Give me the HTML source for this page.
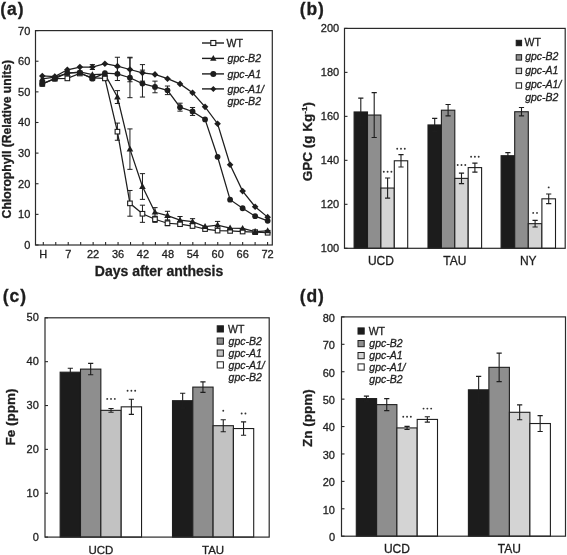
<!DOCTYPE html>
<html><head><meta charset="utf-8"><title>Figure</title>
<style>
html,body{margin:0;padding:0;background:#fff;}
body{width:567px;height:555px;overflow:hidden;}
svg{display:block;will-change:transform;}
svg text{font-family:"Liberation Sans", sans-serif;fill:#1e1e1e;stroke:#1e1e1e;stroke-width:0.3px;}
</style></head>
<body>
<svg width="567" height="555" viewBox="0 0 567 555">
<rect width="567" height="555" fill="#fff"/>
<text x="0.3" y="14.6" font-size="17.5" text-anchor="start" font-weight="bold" font-style="normal" letter-spacing="0.9">(a)</text>
<rect x="35.5" y="30.6" width="236.8" height="214.4" fill="none" stroke="#2a2a2a" stroke-width="1.2"/>
<line x1="35.5" y1="245" x2="38.5" y2="245" stroke="#2a2a2a" stroke-width="1.1"/>
<text x="30.3" y="248.96" font-size="11" text-anchor="end" font-weight="normal" font-style="normal" >0</text>
<line x1="35.5" y1="214.37" x2="38.5" y2="214.37" stroke="#2a2a2a" stroke-width="1.1"/>
<text x="30.3" y="218.33" font-size="11" text-anchor="end" font-weight="normal" font-style="normal" >10</text>
<line x1="35.5" y1="183.74" x2="38.5" y2="183.74" stroke="#2a2a2a" stroke-width="1.1"/>
<text x="30.3" y="187.7" font-size="11" text-anchor="end" font-weight="normal" font-style="normal" >20</text>
<line x1="35.5" y1="153.11" x2="38.5" y2="153.11" stroke="#2a2a2a" stroke-width="1.1"/>
<text x="30.3" y="157.07" font-size="11" text-anchor="end" font-weight="normal" font-style="normal" >30</text>
<line x1="35.5" y1="122.49" x2="38.5" y2="122.49" stroke="#2a2a2a" stroke-width="1.1"/>
<text x="30.3" y="126.45" font-size="11" text-anchor="end" font-weight="normal" font-style="normal" >40</text>
<line x1="35.5" y1="91.86" x2="38.5" y2="91.86" stroke="#2a2a2a" stroke-width="1.1"/>
<text x="30.3" y="95.82" font-size="11" text-anchor="end" font-weight="normal" font-style="normal" >50</text>
<line x1="35.5" y1="61.23" x2="38.5" y2="61.23" stroke="#2a2a2a" stroke-width="1.1"/>
<text x="30.3" y="65.19" font-size="11" text-anchor="end" font-weight="normal" font-style="normal" >60</text>
<line x1="35.5" y1="30.6" x2="38.5" y2="30.6" stroke="#2a2a2a" stroke-width="1.1"/>
<text x="30.3" y="34.56" font-size="11" text-anchor="end" font-weight="normal" font-style="normal" >70</text>
<line x1="43.3" y1="245" x2="43.3" y2="242" stroke="#2a2a2a" stroke-width="1.1"/>
<line x1="55.76" y1="245" x2="55.76" y2="242" stroke="#2a2a2a" stroke-width="1.1"/>
<line x1="68.22" y1="245" x2="68.22" y2="242" stroke="#2a2a2a" stroke-width="1.1"/>
<line x1="80.68" y1="245" x2="80.68" y2="242" stroke="#2a2a2a" stroke-width="1.1"/>
<line x1="93.14" y1="245" x2="93.14" y2="242" stroke="#2a2a2a" stroke-width="1.1"/>
<line x1="105.6" y1="245" x2="105.6" y2="242" stroke="#2a2a2a" stroke-width="1.1"/>
<line x1="118.06" y1="245" x2="118.06" y2="242" stroke="#2a2a2a" stroke-width="1.1"/>
<line x1="130.52" y1="245" x2="130.52" y2="242" stroke="#2a2a2a" stroke-width="1.1"/>
<line x1="142.98" y1="245" x2="142.98" y2="242" stroke="#2a2a2a" stroke-width="1.1"/>
<line x1="155.44" y1="245" x2="155.44" y2="242" stroke="#2a2a2a" stroke-width="1.1"/>
<line x1="167.9" y1="245" x2="167.9" y2="242" stroke="#2a2a2a" stroke-width="1.1"/>
<line x1="180.36" y1="245" x2="180.36" y2="242" stroke="#2a2a2a" stroke-width="1.1"/>
<line x1="192.82" y1="245" x2="192.82" y2="242" stroke="#2a2a2a" stroke-width="1.1"/>
<line x1="205.28" y1="245" x2="205.28" y2="242" stroke="#2a2a2a" stroke-width="1.1"/>
<line x1="217.74" y1="245" x2="217.74" y2="242" stroke="#2a2a2a" stroke-width="1.1"/>
<line x1="230.2" y1="245" x2="230.2" y2="242" stroke="#2a2a2a" stroke-width="1.1"/>
<line x1="242.66" y1="245" x2="242.66" y2="242" stroke="#2a2a2a" stroke-width="1.1"/>
<line x1="255.12" y1="245" x2="255.12" y2="242" stroke="#2a2a2a" stroke-width="1.1"/>
<line x1="267.58" y1="245" x2="267.58" y2="242" stroke="#2a2a2a" stroke-width="1.1"/>
<text x="43.3" y="258.3" font-size="11" text-anchor="middle" font-weight="normal" font-style="normal" >H</text>
<text x="68.22" y="258.3" font-size="11" text-anchor="middle" font-weight="normal" font-style="normal" >7</text>
<text x="93.14" y="258.3" font-size="11" text-anchor="middle" font-weight="normal" font-style="normal" >22</text>
<text x="118.06" y="258.3" font-size="11" text-anchor="middle" font-weight="normal" font-style="normal" >36</text>
<text x="142.98" y="258.3" font-size="11" text-anchor="middle" font-weight="normal" font-style="normal" >42</text>
<text x="167.9" y="258.3" font-size="11" text-anchor="middle" font-weight="normal" font-style="normal" >48</text>
<text x="192.82" y="258.3" font-size="11" text-anchor="middle" font-weight="normal" font-style="normal" >54</text>
<text x="217.74" y="258.3" font-size="11" text-anchor="middle" font-weight="normal" font-style="normal" >60</text>
<text x="242.66" y="258.3" font-size="11" text-anchor="middle" font-weight="normal" font-style="normal" >66</text>
<text x="267.58" y="258.3" font-size="11" text-anchor="middle" font-weight="normal" font-style="normal" >72</text>
<text x="159" y="276.2" font-size="14" text-anchor="middle" font-weight="bold" font-style="normal" >Days after anthesis</text>
<text transform="translate(11.4,139.2) rotate(-90)" font-size="12.2" font-weight="bold" text-anchor="middle">Chlorophyll (Relative units)</text>
<path d="M117.42 57.25V75.01M114.82 57.25H120.02M114.82 75.01H120.02" stroke="#1e1e1e" stroke-width="1.0" fill="none"/>
<path d="M129.94 57.25V81.75M127.34 57.25H132.54M127.34 81.75H132.54" stroke="#1e1e1e" stroke-width="1.0" fill="none"/>
<path d="M142.46 64.6V81.14M139.86 64.6H145.06M139.86 81.14H145.06" stroke="#1e1e1e" stroke-width="1.0" fill="none"/>
<path d="M92.38 64.6V69.5M89.78 64.6H94.98M89.78 69.5H94.98" stroke="#1e1e1e" stroke-width="1.0" fill="none"/>
<path d="M117.42 67.05V80.52M114.82 67.05H120.02M114.82 80.52H120.02" stroke="#1e1e1e" stroke-width="1.0" fill="none"/>
<path d="M129.94 57.86V97.68M127.34 57.86H132.54M127.34 97.68H132.54" stroke="#1e1e1e" stroke-width="1.0" fill="none"/>
<path d="M142.46 70.11V97.06M139.86 70.11H145.06M139.86 97.06H145.06" stroke="#1e1e1e" stroke-width="1.0" fill="none"/>
<path d="M154.98 81.14V92.78M152.38 81.14H157.58M152.38 92.78H157.58" stroke="#1e1e1e" stroke-width="1.0" fill="none"/>
<path d="M167.5 86.04V94.61M164.9 86.04H170.1M164.9 94.61H170.1" stroke="#1e1e1e" stroke-width="1.0" fill="none"/>
<path d="M180.02 103.19V111.15M177.42 103.19H182.62M177.42 111.15H182.62" stroke="#1e1e1e" stroke-width="1.0" fill="none"/>
<path d="M192.54 107.48V115.44M189.94 107.48H195.14M189.94 115.44H195.14" stroke="#1e1e1e" stroke-width="1.0" fill="none"/>
<path d="M117.42 90.63V103.5M114.82 90.63H120.02M114.82 103.5H120.02" stroke="#1e1e1e" stroke-width="1.0" fill="none"/>
<path d="M129.94 128.92V169.35M127.34 128.92H132.54M127.34 169.35H132.54" stroke="#1e1e1e" stroke-width="1.0" fill="none"/>
<path d="M142.46 173.64V199.36M139.86 173.64H145.06M139.86 199.36H145.06" stroke="#1e1e1e" stroke-width="1.0" fill="none"/>
<path d="M154.98 207.63V216.82M152.38 207.63H157.58M152.38 216.82H157.58" stroke="#1e1e1e" stroke-width="1.0" fill="none"/>
<path d="M167.5 211.31V219.88M164.9 211.31H170.1M164.9 219.88H170.1" stroke="#1e1e1e" stroke-width="1.0" fill="none"/>
<path d="M180.02 216.52V223.87M177.42 216.52H182.62M177.42 223.87H182.62" stroke="#1e1e1e" stroke-width="1.0" fill="none"/>
<path d="M192.54 218.66V224.79M189.94 218.66H195.14M189.94 224.79H195.14" stroke="#1e1e1e" stroke-width="1.0" fill="none"/>
<path d="M217.58 221.42V228.77M214.98 221.42H220.18M214.98 228.77H220.18" stroke="#1e1e1e" stroke-width="1.0" fill="none"/>
<path d="M117.42 123.1V140.25M114.82 123.1H120.02M114.82 140.25H120.02" stroke="#1e1e1e" stroke-width="1.0" fill="none"/>
<path d="M129.94 190.48V216.21M127.34 190.48H132.54M127.34 216.21H132.54" stroke="#1e1e1e" stroke-width="1.0" fill="none"/>
<path d="M142.46 205.18V222.33M139.86 205.18H145.06M139.86 222.33H145.06" stroke="#1e1e1e" stroke-width="1.0" fill="none"/>
<path d="M154.98 216.21V222.33M152.38 216.21H157.58M152.38 222.33H157.58" stroke="#1e1e1e" stroke-width="1.0" fill="none"/>
<path d="M167.5 220.8V225.7M164.9 220.8H170.1M164.9 225.7H170.1" stroke="#1e1e1e" stroke-width="1.0" fill="none"/>
<polyline points="42.3,75.93 54.82,76.54 67.34,69.8 79.86,67.05 92.38,67.05 104.9,63.68 117.42,66.13 129.94,69.5 142.46,72.87 154.98,74.4 167.5,78.69 180.02,83.89 192.54,92.78 205.06,106.87 217.58,123.71 230.1,164.75 242.62,191.09 255.14,206.71 267.66,217.13" fill="none" stroke="#1e1e1e" stroke-width="1.25"/>
<polyline points="42.3,83.89 54.82,78.69 67.34,72.87 79.86,72.56 92.38,78.69 104.9,73.17 117.42,73.79 129.94,77.77 142.46,83.59 154.98,86.96 167.5,90.33 180.02,107.17 192.54,111.46 205.06,119.42 217.58,156.79 230.1,199.67 242.62,208.25 255.14,216.21 267.66,220.8" fill="none" stroke="#1e1e1e" stroke-width="1.25"/>
<polyline points="42.3,78.99 54.82,77.16 67.34,73.48 79.86,71.95 92.38,74.71 104.9,74.09 117.42,97.06 129.94,149.13 142.46,186.5 154.98,212.23 167.5,215.6 180.02,220.19 192.54,221.72 205.06,226.62 217.58,225.09 230.1,228.15 242.62,228.46 255.14,231.52 267.66,230.91" fill="none" stroke="#1e1e1e" stroke-width="1.25"/>
<polyline points="42.3,83.89 54.82,78.69 67.34,78.38 79.86,73.48 92.38,77.77 104.9,78.38 117.42,131.67 129.94,203.35 142.46,213.76 154.98,219.27 167.5,223.25 180.02,224.17 192.54,226.01 205.06,229.07 217.58,230.6 230.1,230.91 242.62,231.52 255.14,232.14 267.66,232.75" fill="none" stroke="#1e1e1e" stroke-width="1.25"/>
<rect x="40" y="81.59" width="4.6" height="4.6" fill="#fff" stroke="#1e1e1e" stroke-width="1.1"/>
<rect x="52.52" y="76.39" width="4.6" height="4.6" fill="#fff" stroke="#1e1e1e" stroke-width="1.1"/>
<rect x="65.04" y="76.08" width="4.6" height="4.6" fill="#fff" stroke="#1e1e1e" stroke-width="1.1"/>
<rect x="77.56" y="71.18" width="4.6" height="4.6" fill="#fff" stroke="#1e1e1e" stroke-width="1.1"/>
<rect x="90.08" y="75.47" width="4.6" height="4.6" fill="#fff" stroke="#1e1e1e" stroke-width="1.1"/>
<rect x="102.6" y="76.08" width="4.6" height="4.6" fill="#fff" stroke="#1e1e1e" stroke-width="1.1"/>
<rect x="115.12" y="129.37" width="4.6" height="4.6" fill="#fff" stroke="#1e1e1e" stroke-width="1.1"/>
<rect x="127.64" y="201.05" width="4.6" height="4.6" fill="#fff" stroke="#1e1e1e" stroke-width="1.1"/>
<rect x="140.16" y="211.46" width="4.6" height="4.6" fill="#fff" stroke="#1e1e1e" stroke-width="1.1"/>
<rect x="152.68" y="216.97" width="4.6" height="4.6" fill="#fff" stroke="#1e1e1e" stroke-width="1.1"/>
<rect x="165.2" y="220.95" width="4.6" height="4.6" fill="#fff" stroke="#1e1e1e" stroke-width="1.1"/>
<rect x="177.72" y="221.87" width="4.6" height="4.6" fill="#fff" stroke="#1e1e1e" stroke-width="1.1"/>
<rect x="190.24" y="223.71" width="4.6" height="4.6" fill="#fff" stroke="#1e1e1e" stroke-width="1.1"/>
<rect x="202.76" y="226.77" width="4.6" height="4.6" fill="#fff" stroke="#1e1e1e" stroke-width="1.1"/>
<rect x="215.28" y="228.3" width="4.6" height="4.6" fill="#fff" stroke="#1e1e1e" stroke-width="1.1"/>
<rect x="227.8" y="228.61" width="4.6" height="4.6" fill="#fff" stroke="#1e1e1e" stroke-width="1.1"/>
<rect x="240.32" y="229.22" width="4.6" height="4.6" fill="#fff" stroke="#1e1e1e" stroke-width="1.1"/>
<rect x="252.84" y="229.84" width="4.6" height="4.6" fill="#fff" stroke="#1e1e1e" stroke-width="1.1"/>
<rect x="265.36" y="230.45" width="4.6" height="4.6" fill="#fff" stroke="#1e1e1e" stroke-width="1.1"/>
<path d="M42.3 75.43L45.6 81.37L39 81.37Z" fill="#1e1e1e"/>
<path d="M54.82 73.59L58.12 79.53L51.52 79.53Z" fill="#1e1e1e"/>
<path d="M67.34 69.92L70.64 75.86L64.04 75.86Z" fill="#1e1e1e"/>
<path d="M79.86 68.38L83.16 74.32L76.56 74.32Z" fill="#1e1e1e"/>
<path d="M92.38 71.14L95.68 77.08L89.08 77.08Z" fill="#1e1e1e"/>
<path d="M104.9 70.53L108.2 76.47L101.6 76.47Z" fill="#1e1e1e"/>
<path d="M117.42 93.5L120.72 99.44L114.12 99.44Z" fill="#1e1e1e"/>
<path d="M129.94 145.57L133.24 151.51L126.64 151.51Z" fill="#1e1e1e"/>
<path d="M142.46 182.94L145.76 188.88L139.16 188.88Z" fill="#1e1e1e"/>
<path d="M154.98 208.66L158.28 214.6L151.68 214.6Z" fill="#1e1e1e"/>
<path d="M167.5 212.03L170.8 217.97L164.2 217.97Z" fill="#1e1e1e"/>
<path d="M180.02 216.63L183.32 222.57L176.72 222.57Z" fill="#1e1e1e"/>
<path d="M192.54 218.16L195.84 224.1L189.24 224.1Z" fill="#1e1e1e"/>
<path d="M205.06 223.06L208.36 229L201.76 229Z" fill="#1e1e1e"/>
<path d="M217.58 221.53L220.88 227.47L214.28 227.47Z" fill="#1e1e1e"/>
<path d="M230.1 224.59L233.4 230.53L226.8 230.53Z" fill="#1e1e1e"/>
<path d="M242.62 224.9L245.92 230.84L239.32 230.84Z" fill="#1e1e1e"/>
<path d="M255.14 227.96L258.44 233.9L251.84 233.9Z" fill="#1e1e1e"/>
<path d="M267.66 227.35L270.96 233.29L264.36 233.29Z" fill="#1e1e1e"/>
<circle cx="42.3" cy="83.89" r="2.9" fill="#1e1e1e"/>
<circle cx="54.82" cy="78.69" r="2.9" fill="#1e1e1e"/>
<circle cx="67.34" cy="72.87" r="2.9" fill="#1e1e1e"/>
<circle cx="79.86" cy="72.56" r="2.9" fill="#1e1e1e"/>
<circle cx="92.38" cy="78.69" r="2.9" fill="#1e1e1e"/>
<circle cx="104.9" cy="73.17" r="2.9" fill="#1e1e1e"/>
<circle cx="117.42" cy="73.79" r="2.9" fill="#1e1e1e"/>
<circle cx="129.94" cy="77.77" r="2.9" fill="#1e1e1e"/>
<circle cx="142.46" cy="83.59" r="2.9" fill="#1e1e1e"/>
<circle cx="154.98" cy="86.96" r="2.9" fill="#1e1e1e"/>
<circle cx="167.5" cy="90.33" r="2.9" fill="#1e1e1e"/>
<circle cx="180.02" cy="107.17" r="2.9" fill="#1e1e1e"/>
<circle cx="192.54" cy="111.46" r="2.9" fill="#1e1e1e"/>
<circle cx="205.06" cy="119.42" r="2.9" fill="#1e1e1e"/>
<circle cx="217.58" cy="156.79" r="2.9" fill="#1e1e1e"/>
<circle cx="230.1" cy="199.67" r="2.9" fill="#1e1e1e"/>
<circle cx="242.62" cy="208.25" r="2.9" fill="#1e1e1e"/>
<circle cx="255.14" cy="216.21" r="2.9" fill="#1e1e1e"/>
<circle cx="267.66" cy="220.8" r="2.9" fill="#1e1e1e"/>
<path d="M42.3 72.63L45.6 75.93L42.3 79.23L39 75.93Z" fill="#1e1e1e"/>
<path d="M54.82 73.24L58.12 76.54L54.82 79.84L51.52 76.54Z" fill="#1e1e1e"/>
<path d="M67.34 66.5L70.64 69.8L67.34 73.1L64.04 69.8Z" fill="#1e1e1e"/>
<path d="M79.86 63.75L83.16 67.05L79.86 70.35L76.56 67.05Z" fill="#1e1e1e"/>
<path d="M92.38 63.75L95.68 67.05L92.38 70.35L89.08 67.05Z" fill="#1e1e1e"/>
<path d="M104.9 60.38L108.2 63.68L104.9 66.98L101.6 63.68Z" fill="#1e1e1e"/>
<path d="M117.42 62.83L120.72 66.13L117.42 69.43L114.12 66.13Z" fill="#1e1e1e"/>
<path d="M129.94 66.2L133.24 69.5L129.94 72.8L126.64 69.5Z" fill="#1e1e1e"/>
<path d="M142.46 69.57L145.76 72.87L142.46 76.17L139.16 72.87Z" fill="#1e1e1e"/>
<path d="M154.98 71.1L158.28 74.4L154.98 77.7L151.68 74.4Z" fill="#1e1e1e"/>
<path d="M167.5 75.39L170.8 78.69L167.5 81.99L164.2 78.69Z" fill="#1e1e1e"/>
<path d="M180.02 80.59L183.32 83.89L180.02 87.19L176.72 83.89Z" fill="#1e1e1e"/>
<path d="M192.54 89.48L195.84 92.78L192.54 96.08L189.24 92.78Z" fill="#1e1e1e"/>
<path d="M205.06 103.57L208.36 106.87L205.06 110.17L201.76 106.87Z" fill="#1e1e1e"/>
<path d="M217.58 120.41L220.88 123.71L217.58 127.01L214.28 123.71Z" fill="#1e1e1e"/>
<path d="M230.1 161.45L233.4 164.75L230.1 168.05L226.8 164.75Z" fill="#1e1e1e"/>
<path d="M242.62 187.79L245.92 191.09L242.62 194.39L239.32 191.09Z" fill="#1e1e1e"/>
<path d="M255.14 203.41L258.44 206.71L255.14 210.01L251.84 206.71Z" fill="#1e1e1e"/>
<path d="M267.66 213.83L270.96 217.13L267.66 220.43L264.36 217.13Z" fill="#1e1e1e"/>
<line x1="202" y1="43" x2="224" y2="43" stroke="#1e1e1e" stroke-width="1.4"/>
<line x1="202" y1="58.4" x2="224" y2="58.4" stroke="#1e1e1e" stroke-width="1.4"/>
<line x1="202" y1="73.9" x2="224" y2="73.9" stroke="#1e1e1e" stroke-width="1.4"/>
<line x1="202" y1="88.9" x2="224" y2="88.9" stroke="#1e1e1e" stroke-width="1.4"/>
<rect x="210.8" y="40.5" width="5" height="5" fill="#fff" stroke="#1e1e1e" stroke-width="1.1"/>
<path d="M213.3 54.94L216.5 60.7L210.1 60.7Z" fill="#1e1e1e"/>
<circle cx="213.3" cy="73.9" r="3" fill="#1e1e1e"/>
<path d="M213.3 85.9L216.3 88.9L213.3 91.9L210.3 88.9Z" fill="#1e1e1e"/>
<text x="226.5" y="46.8" font-size="10.6" text-anchor="start" font-weight="normal" font-style="normal" >WT</text>
<text x="227.5" y="62.2" font-size="10.6" text-anchor="start" font-weight="normal" font-style="italic" >gpc-B2</text>
<text x="227.5" y="77.7" font-size="10.6" text-anchor="start" font-weight="normal" font-style="italic" >gpc-A1</text>
<text x="227.5" y="92.7" font-size="10.6" text-anchor="start" font-weight="normal" font-style="italic" >gpc-A1/</text>
<text x="227.5" y="105.3" font-size="10.6" text-anchor="start" font-weight="normal" font-style="italic" >gpc-B2</text>
<text x="299.8" y="14.6" font-size="17.5" text-anchor="start" font-weight="bold" font-style="normal" letter-spacing="0.9">(b)</text>
<rect x="354.1" y="111.96" width="13.4" height="136.34" fill="#1c1c1c" stroke="#1e1e1e" stroke-width="1.1"/>
<rect x="367.5" y="115.04" width="13.4" height="133.26" fill="#8e8e8e" stroke="#1e1e1e" stroke-width="1.1"/>
<rect x="380.9" y="188.05" width="13.4" height="60.25" fill="#d4d4d4" stroke="#1e1e1e" stroke-width="1.1"/>
<rect x="394.3" y="160.78" width="13.4" height="87.52" fill="#ffffff" stroke="#1e1e1e" stroke-width="1.1"/>
<path d="M360.8 98.11V125.82M358.2 98.11H363.4M358.2 125.82H363.4" stroke="#1e1e1e" stroke-width="1.1" fill="none"/>
<path d="M374.2 92.61V137.47M371.6 92.61H376.8M371.6 137.47H376.8" stroke="#1e1e1e" stroke-width="1.1" fill="none"/>
<path d="M387.6 177.93V198.16M385 177.93H390.2M385 198.16H390.2" stroke="#1e1e1e" stroke-width="1.1" fill="none"/>
<circle cx="383.8" cy="171.7" r="0.95" fill="#333"/>
<circle cx="387.6" cy="171.7" r="0.95" fill="#333"/>
<circle cx="391.4" cy="171.7" r="0.95" fill="#333"/>
<path d="M401 154.62V166.94M398.4 154.62H403.6M398.4 166.94H403.6" stroke="#1e1e1e" stroke-width="1.1" fill="none"/>
<circle cx="397.2" cy="148.8" r="0.95" fill="#333"/>
<circle cx="401" cy="148.8" r="0.95" fill="#333"/>
<circle cx="404.8" cy="148.8" r="0.95" fill="#333"/>
<text x="380.9" y="264.5" font-size="12" text-anchor="middle" font-weight="normal" font-style="normal" >UCD</text>
<rect x="428" y="124.94" width="13.4" height="123.36" fill="#1c1c1c" stroke="#1e1e1e" stroke-width="1.1"/>
<rect x="441.4" y="110.2" width="13.4" height="138.1" fill="#8e8e8e" stroke="#1e1e1e" stroke-width="1.1"/>
<rect x="454.8" y="178.37" width="13.4" height="69.93" fill="#d4d4d4" stroke="#1e1e1e" stroke-width="1.1"/>
<rect x="468.2" y="167.6" width="13.4" height="80.7" fill="#ffffff" stroke="#1e1e1e" stroke-width="1.1"/>
<path d="M434.7 118.34V131.53M432.1 118.34H437.3M432.1 131.53H437.3" stroke="#1e1e1e" stroke-width="1.1" fill="none"/>
<path d="M448.1 104.49V115.92M445.5 104.49H450.7M445.5 115.92H450.7" stroke="#1e1e1e" stroke-width="1.1" fill="none"/>
<path d="M461.5 173.09V183.65M458.9 173.09H464.1M458.9 183.65H464.1" stroke="#1e1e1e" stroke-width="1.1" fill="none"/>
<circle cx="457.7" cy="165" r="0.95" fill="#333"/>
<circle cx="461.5" cy="165" r="0.95" fill="#333"/>
<circle cx="465.3" cy="165" r="0.95" fill="#333"/>
<path d="M474.9 163.09V172.1M472.3 163.09H477.5M472.3 172.1H477.5" stroke="#1e1e1e" stroke-width="1.1" fill="none"/>
<circle cx="471.1" cy="156.8" r="0.95" fill="#333"/>
<circle cx="474.9" cy="156.8" r="0.95" fill="#333"/>
<circle cx="478.7" cy="156.8" r="0.95" fill="#333"/>
<text x="454.8" y="264.5" font-size="12" text-anchor="middle" font-weight="normal" font-style="normal" >TAU</text>
<rect x="501.1" y="155.72" width="13.6" height="92.58" fill="#1c1c1c" stroke="#1e1e1e" stroke-width="1.1"/>
<rect x="514.7" y="111.74" width="13.6" height="136.56" fill="#8e8e8e" stroke="#1e1e1e" stroke-width="1.1"/>
<rect x="528.3" y="223.67" width="13.6" height="24.63" fill="#d4d4d4" stroke="#1e1e1e" stroke-width="1.1"/>
<rect x="541.9" y="198.82" width="13.6" height="49.48" fill="#ffffff" stroke="#1e1e1e" stroke-width="1.1"/>
<path d="M507.9 152.64V158.8M505.3 152.64H510.5M505.3 158.8H510.5" stroke="#1e1e1e" stroke-width="1.1" fill="none"/>
<path d="M521.5 107.56V115.92M518.9 107.56H524.1M518.9 115.92H524.1" stroke="#1e1e1e" stroke-width="1.1" fill="none"/>
<path d="M535.1 220.37V226.97M532.5 220.37H537.7M532.5 226.97H537.7" stroke="#1e1e1e" stroke-width="1.1" fill="none"/>
<circle cx="533.2" cy="212.9" r="0.95" fill="#333"/>
<circle cx="537" cy="212.9" r="0.95" fill="#333"/>
<path d="M548.7 193.98V203.66M546.1 193.98H551.3M546.1 203.66H551.3" stroke="#1e1e1e" stroke-width="1.1" fill="none"/>
<circle cx="548.7" cy="187.4" r="0.95" fill="#333"/>
<text x="528.3" y="264.5" font-size="12" text-anchor="middle" font-weight="normal" font-style="normal" >NY</text>
<rect x="344.5" y="28.4" width="220.7" height="219.9" fill="none" stroke="#2a2a2a" stroke-width="1.2"/>
<line x1="344.5" y1="248.3" x2="347.5" y2="248.3" stroke="#2a2a2a" stroke-width="1.1"/>
<text x="339.2" y="252.26" font-size="11" text-anchor="end" font-weight="normal" font-style="normal" >100</text>
<line x1="344.5" y1="204.32" x2="347.5" y2="204.32" stroke="#2a2a2a" stroke-width="1.1"/>
<text x="339.2" y="208.28" font-size="11" text-anchor="end" font-weight="normal" font-style="normal" >120</text>
<line x1="344.5" y1="160.34" x2="347.5" y2="160.34" stroke="#2a2a2a" stroke-width="1.1"/>
<text x="339.2" y="164.3" font-size="11" text-anchor="end" font-weight="normal" font-style="normal" >140</text>
<line x1="344.5" y1="116.36" x2="347.5" y2="116.36" stroke="#2a2a2a" stroke-width="1.1"/>
<text x="339.2" y="120.32" font-size="11" text-anchor="end" font-weight="normal" font-style="normal" >160</text>
<line x1="344.5" y1="72.38" x2="347.5" y2="72.38" stroke="#2a2a2a" stroke-width="1.1"/>
<text x="339.2" y="76.34" font-size="11" text-anchor="end" font-weight="normal" font-style="normal" >180</text>
<line x1="344.5" y1="28.4" x2="347.5" y2="28.4" stroke="#2a2a2a" stroke-width="1.1"/>
<text x="339.2" y="32.36" font-size="11" text-anchor="end" font-weight="normal" font-style="normal" >200</text>
<text transform="translate(312.4,141.6) rotate(-90)" font-size="13.5" font-weight="bold" text-anchor="middle">GPC (g Kg<tspan dy="-5" font-size="8">-1</tspan><tspan dy="5">)</tspan></text>
<rect x="516.2" y="40.3" width="5.4" height="5.4" fill="#1c1c1c" stroke="#1e1e1e" stroke-width="1"/>
<text x="524.6" y="45.88" font-size="10.5" text-anchor="start" font-weight="normal" font-style="normal" >WT</text>
<rect x="516.2" y="54.7" width="5.4" height="5.4" fill="#8e8e8e" stroke="#1e1e1e" stroke-width="1"/>
<text x="525.2" y="60.28" font-size="10.5" text-anchor="start" font-weight="normal" font-style="italic" >gpc-B2</text>
<rect x="516.2" y="68.2" width="5.4" height="5.4" fill="#d4d4d4" stroke="#1e1e1e" stroke-width="1"/>
<text x="525.2" y="73.78" font-size="10.5" text-anchor="start" font-weight="normal" font-style="italic" >gpc-A1</text>
<rect x="516.2" y="82.8" width="5.4" height="5.4" fill="#ffffff" stroke="#1e1e1e" stroke-width="1"/>
<text x="525.2" y="88.38" font-size="10.5" text-anchor="start" font-weight="normal" font-style="italic" >gpc-A1/</text>
<text x="525.2" y="101.18" font-size="10.5" text-anchor="start" font-weight="normal" font-style="italic" >gpc-B2</text>
<text x="2.8" y="302.4" font-size="17.5" text-anchor="start" font-weight="bold" font-style="normal" letter-spacing="0.9">(c)</text>
<rect x="60.15" y="372.19" width="20.35" height="164.91" fill="#1c1c1c" stroke="#1e1e1e" stroke-width="1.1"/>
<rect x="80.5" y="369.12" width="20.35" height="167.98" fill="#8e8e8e" stroke="#1e1e1e" stroke-width="1.1"/>
<rect x="100.85" y="410.34" width="20.35" height="126.76" fill="#c2c2c2" stroke="#1e1e1e" stroke-width="1.1"/>
<rect x="121.2" y="406.84" width="20.35" height="130.26" fill="#ffffff" stroke="#1e1e1e" stroke-width="1.1"/>
<path d="M70.32 368.24V376.13M67.72 368.24H72.92M67.72 376.13H72.92" stroke="#1e1e1e" stroke-width="1.1" fill="none"/>
<path d="M90.67 363.41V374.82M88.08 363.41H93.27M88.08 374.82H93.27" stroke="#1e1e1e" stroke-width="1.1" fill="none"/>
<path d="M111.02 408.5V412.19M108.42 408.5H113.62M108.42 412.19H113.62" stroke="#1e1e1e" stroke-width="1.1" fill="none"/>
<circle cx="107.22" cy="398.9" r="0.95" fill="#333"/>
<circle cx="111.02" cy="398.9" r="0.95" fill="#333"/>
<circle cx="114.82" cy="398.9" r="0.95" fill="#333"/>
<path d="M131.38 399.29V414.38M128.78 399.29H133.97M128.78 414.38H133.97" stroke="#1e1e1e" stroke-width="1.1" fill="none"/>
<circle cx="127.58" cy="390.7" r="0.95" fill="#333"/>
<circle cx="131.38" cy="390.7" r="0.95" fill="#333"/>
<circle cx="135.18" cy="390.7" r="0.95" fill="#333"/>
<text x="100.85" y="553.8" font-size="11.5" text-anchor="middle" font-weight="normal" font-style="normal" >UCD</text>
<rect x="172.5" y="400.7" width="20.3" height="136.4" fill="#1c1c1c" stroke="#1e1e1e" stroke-width="1.1"/>
<rect x="192.8" y="387.1" width="20.3" height="150" fill="#8e8e8e" stroke="#1e1e1e" stroke-width="1.1"/>
<rect x="213.1" y="425.7" width="20.3" height="111.4" fill="#c2c2c2" stroke="#1e1e1e" stroke-width="1.1"/>
<rect x="233.4" y="428.55" width="20.3" height="108.55" fill="#ffffff" stroke="#1e1e1e" stroke-width="1.1"/>
<path d="M182.65 393.24V408.15M180.05 393.24H185.25M180.05 408.15H185.25" stroke="#1e1e1e" stroke-width="1.1" fill="none"/>
<path d="M202.95 381.84V392.36M200.35 381.84H205.55M200.35 392.36H205.55" stroke="#1e1e1e" stroke-width="1.1" fill="none"/>
<path d="M223.25 419.69V431.7M220.65 419.69H225.85M220.65 431.7H225.85" stroke="#1e1e1e" stroke-width="1.1" fill="none"/>
<circle cx="223.25" cy="410.8" r="0.95" fill="#333"/>
<path d="M243.55 421.84V435.26M240.95 421.84H246.15M240.95 435.26H246.15" stroke="#1e1e1e" stroke-width="1.1" fill="none"/>
<circle cx="241.65" cy="413.5" r="0.95" fill="#333"/>
<circle cx="245.45" cy="413.5" r="0.95" fill="#333"/>
<text x="213.1" y="553.8" font-size="11.5" text-anchor="middle" font-weight="normal" font-style="normal" >TAU</text>
<rect x="45" y="317.8" width="224.2" height="219.3" fill="none" stroke="#2a2a2a" stroke-width="1.2"/>
<line x1="45" y1="537.1" x2="48" y2="537.1" stroke="#2a2a2a" stroke-width="1.1"/>
<text x="38.8" y="540.66" font-size="11" text-anchor="end" font-weight="normal" font-style="normal" >0</text>
<line x1="45" y1="493.24" x2="48" y2="493.24" stroke="#2a2a2a" stroke-width="1.1"/>
<text x="38.8" y="496.8" font-size="11" text-anchor="end" font-weight="normal" font-style="normal" >10</text>
<line x1="45" y1="449.38" x2="48" y2="449.38" stroke="#2a2a2a" stroke-width="1.1"/>
<text x="38.8" y="452.94" font-size="11" text-anchor="end" font-weight="normal" font-style="normal" >20</text>
<line x1="45" y1="405.52" x2="48" y2="405.52" stroke="#2a2a2a" stroke-width="1.1"/>
<text x="38.8" y="409.08" font-size="11" text-anchor="end" font-weight="normal" font-style="normal" >30</text>
<line x1="45" y1="361.66" x2="48" y2="361.66" stroke="#2a2a2a" stroke-width="1.1"/>
<text x="38.8" y="365.22" font-size="11" text-anchor="end" font-weight="normal" font-style="normal" >40</text>
<line x1="45" y1="317.8" x2="48" y2="317.8" stroke="#2a2a2a" stroke-width="1.1"/>
<text x="38.8" y="321.36" font-size="11" text-anchor="end" font-weight="normal" font-style="normal" >50</text>
<text transform="translate(15.0,417) rotate(-90)" font-size="13.5" font-weight="bold" text-anchor="middle">Fe (ppm)</text>
<rect x="217.2" y="325.8" width="6.2" height="6.2" fill="#1c1c1c" stroke="#1e1e1e" stroke-width="1"/>
<text x="228" y="332.68" font-size="10.5" text-anchor="start" font-weight="normal" font-style="normal" >WT</text>
<rect x="217.2" y="338" width="6.2" height="6.2" fill="#8e8e8e" stroke="#1e1e1e" stroke-width="1"/>
<text x="228.6" y="344.88" font-size="10.5" text-anchor="start" font-weight="normal" font-style="italic" >gpc-B2</text>
<rect x="217.2" y="350" width="6.2" height="6.2" fill="#c2c2c2" stroke="#1e1e1e" stroke-width="1"/>
<text x="228.6" y="356.88" font-size="10.5" text-anchor="start" font-weight="normal" font-style="italic" >gpc-A1</text>
<rect x="217.2" y="361.8" width="6.2" height="6.2" fill="#ffffff" stroke="#1e1e1e" stroke-width="1"/>
<text x="228.6" y="368.68" font-size="10.5" text-anchor="start" font-weight="normal" font-style="italic" >gpc-A1/</text>
<text x="228.6" y="381.28" font-size="10.5" text-anchor="start" font-weight="normal" font-style="italic" >gpc-B2</text>
<text x="299.8" y="302.4" font-size="17.5" text-anchor="start" font-weight="bold" font-style="normal" letter-spacing="0.9">(d)</text>
<rect x="356.3" y="398.59" width="20.3" height="137.61" fill="#1c1c1c" stroke="#1e1e1e" stroke-width="1.1"/>
<rect x="376.6" y="404.62" width="20.3" height="131.58" fill="#8e8e8e" stroke="#1e1e1e" stroke-width="1.1"/>
<rect x="396.9" y="427.92" width="20.3" height="108.28" fill="#d4d4d4" stroke="#1e1e1e" stroke-width="1.1"/>
<rect x="417.2" y="419.42" width="20.3" height="116.78" fill="#ffffff" stroke="#1e1e1e" stroke-width="1.1"/>
<path d="M366.45 396.12V401.06M363.85 396.12H369.05M363.85 401.06H369.05" stroke="#1e1e1e" stroke-width="1.1" fill="none"/>
<path d="M386.75 398.59V410.65M384.15 398.59H389.35M384.15 410.65H389.35" stroke="#1e1e1e" stroke-width="1.1" fill="none"/>
<path d="M407.05 426.41V429.43M404.45 426.41H409.65M404.45 429.43H409.65" stroke="#1e1e1e" stroke-width="1.1" fill="none"/>
<circle cx="403.25" cy="416.8" r="0.95" fill="#333"/>
<circle cx="407.05" cy="416.8" r="0.95" fill="#333"/>
<circle cx="410.85" cy="416.8" r="0.95" fill="#333"/>
<path d="M427.35 416.68V422.16M424.75 416.68H429.95M424.75 422.16H429.95" stroke="#1e1e1e" stroke-width="1.1" fill="none"/>
<circle cx="423.55" cy="408.6" r="0.95" fill="#333"/>
<circle cx="427.35" cy="408.6" r="0.95" fill="#333"/>
<circle cx="431.15" cy="408.6" r="0.95" fill="#333"/>
<text x="396.9" y="552.6" font-size="12" text-anchor="middle" font-weight="normal" font-style="normal" >UCD</text>
<rect x="468.4" y="389.82" width="20.5" height="146.38" fill="#1c1c1c" stroke="#1e1e1e" stroke-width="1.1"/>
<rect x="488.9" y="367.34" width="20.5" height="168.86" fill="#8e8e8e" stroke="#1e1e1e" stroke-width="1.1"/>
<rect x="509.4" y="412.3" width="20.5" height="123.9" fill="#d4d4d4" stroke="#1e1e1e" stroke-width="1.1"/>
<rect x="529.9" y="423.53" width="20.5" height="112.67" fill="#ffffff" stroke="#1e1e1e" stroke-width="1.1"/>
<path d="M478.65 376.39V403.25M476.05 376.39H481.25M476.05 403.25H481.25" stroke="#1e1e1e" stroke-width="1.1" fill="none"/>
<path d="M499.15 353.08V381.59M496.55 353.08H501.75M496.55 381.59H501.75" stroke="#1e1e1e" stroke-width="1.1" fill="none"/>
<path d="M519.65 404.89V419.7M517.05 404.89H522.25M517.05 419.7H522.25" stroke="#1e1e1e" stroke-width="1.1" fill="none"/>
<path d="M540.15 415.59V431.48M537.55 415.59H542.75M537.55 431.48H542.75" stroke="#1e1e1e" stroke-width="1.1" fill="none"/>
<text x="509.4" y="552.6" font-size="12" text-anchor="middle" font-weight="normal" font-style="normal" >TAU</text>
<rect x="341.5" y="316.9" width="224" height="219.3" fill="none" stroke="#2a2a2a" stroke-width="1.2"/>
<line x1="341.5" y1="536.2" x2="344.5" y2="536.2" stroke="#2a2a2a" stroke-width="1.1"/>
<text x="335" y="541.06" font-size="11" text-anchor="end" font-weight="normal" font-style="normal" >0</text>
<line x1="341.5" y1="508.79" x2="344.5" y2="508.79" stroke="#2a2a2a" stroke-width="1.1"/>
<text x="335" y="513.65" font-size="11" text-anchor="end" font-weight="normal" font-style="normal" >10</text>
<line x1="341.5" y1="481.38" x2="344.5" y2="481.38" stroke="#2a2a2a" stroke-width="1.1"/>
<text x="335" y="486.23" font-size="11" text-anchor="end" font-weight="normal" font-style="normal" >20</text>
<line x1="341.5" y1="453.96" x2="344.5" y2="453.96" stroke="#2a2a2a" stroke-width="1.1"/>
<text x="335" y="458.82" font-size="11" text-anchor="end" font-weight="normal" font-style="normal" >30</text>
<line x1="341.5" y1="426.55" x2="344.5" y2="426.55" stroke="#2a2a2a" stroke-width="1.1"/>
<text x="335" y="431.41" font-size="11" text-anchor="end" font-weight="normal" font-style="normal" >40</text>
<line x1="341.5" y1="399.14" x2="344.5" y2="399.14" stroke="#2a2a2a" stroke-width="1.1"/>
<text x="335" y="404" font-size="11" text-anchor="end" font-weight="normal" font-style="normal" >50</text>
<line x1="341.5" y1="371.73" x2="344.5" y2="371.73" stroke="#2a2a2a" stroke-width="1.1"/>
<text x="335" y="376.58" font-size="11" text-anchor="end" font-weight="normal" font-style="normal" >60</text>
<line x1="341.5" y1="344.31" x2="344.5" y2="344.31" stroke="#2a2a2a" stroke-width="1.1"/>
<text x="335" y="349.17" font-size="11" text-anchor="end" font-weight="normal" font-style="normal" >70</text>
<line x1="341.5" y1="316.9" x2="344.5" y2="316.9" stroke="#2a2a2a" stroke-width="1.1"/>
<text x="335" y="321.76" font-size="11" text-anchor="end" font-weight="normal" font-style="normal" >80</text>
<text transform="translate(311.8,418.2) rotate(-90)" font-size="13.5" font-weight="bold" text-anchor="middle">Zn (ppm)</text>
<rect x="358" y="327.9" width="6.2" height="6.2" fill="#1c1c1c" stroke="#1e1e1e" stroke-width="1"/>
<text x="368.7" y="334.78" font-size="10.5" text-anchor="start" font-weight="normal" font-style="normal" >WT</text>
<rect x="358" y="340.5" width="6.2" height="6.2" fill="#8e8e8e" stroke="#1e1e1e" stroke-width="1"/>
<text x="369.3" y="347.38" font-size="10.5" text-anchor="start" font-weight="normal" font-style="italic" >gpc-B2</text>
<rect x="358" y="352.5" width="6.2" height="6.2" fill="#d4d4d4" stroke="#1e1e1e" stroke-width="1"/>
<text x="369.3" y="359.38" font-size="10.5" text-anchor="start" font-weight="normal" font-style="italic" >gpc-A1</text>
<rect x="358" y="363.9" width="6.2" height="6.2" fill="#ffffff" stroke="#1e1e1e" stroke-width="1"/>
<text x="369.3" y="370.78" font-size="10.5" text-anchor="start" font-weight="normal" font-style="italic" >gpc-A1/</text>
<text x="369.3" y="382.98" font-size="10.5" text-anchor="start" font-weight="normal" font-style="italic" >gpc-B2</text>
</svg>
</body></html>
